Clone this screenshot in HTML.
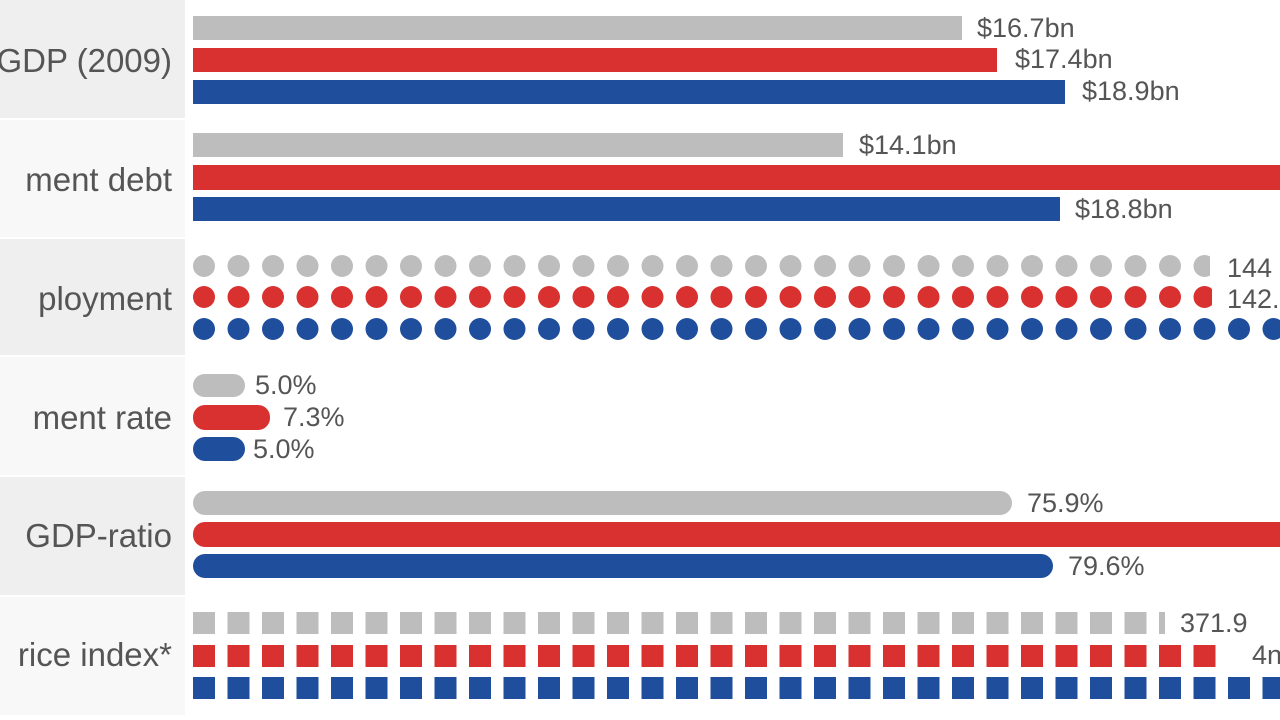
<!DOCTYPE html><html><head><style>
body{margin:0;width:1280px;height:720px;overflow:hidden;background:#fff;font-family:"Liberation Sans",sans-serif;position:relative}
.a{position:absolute}
.lab{position:absolute;right:1108px;font-size:33px;color:#555;white-space:nowrap}
.v{position:absolute;font-size:27px;color:#555;white-space:nowrap}
.g{background:#bdbdbd}.r{background:#d8312f}.b{background:#1f4e9c}
</style></head><body>
<div class="a" style="left:0;top:0;width:185px;height:118px;background:#efefef"></div>
<div class="a" style="left:0;top:120px;width:185px;height:117px;background:#f8f8f8"></div>
<div class="a" style="left:0;top:239px;width:185px;height:116px;background:#efefef"></div>
<div class="a" style="left:0;top:357px;width:185px;height:118px;background:#f8f8f8"></div>
<div class="a" style="left:0;top:477px;width:185px;height:118px;background:#efefef"></div>
<div class="a" style="left:0;top:597px;width:185px;height:118px;background:#f8f8f8"></div>
<div class="lab" style="top:42px">GDP (2009)</div>
<div class="lab" style="top:161px">ment debt</div>
<div class="lab" style="top:280px">ployment</div>
<div class="lab" style="top:399px">ment rate</div>
<div class="lab" style="top:517px">GDP-ratio</div>
<div class="lab" style="top:636px">rice index*</div>

<div class="a g" style="left:193px;top:16px;width:769px;height:24px"></div>
<div class="a r" style="left:193px;top:48px;width:804px;height:24px"></div>
<div class="a b" style="left:193px;top:80px;width:872px;height:24px"></div>
<div class="v" style="left:977px;top:13px">$16.7bn</div>
<div class="v" style="left:1015px;top:44px">$17.4bn</div>
<div class="v" style="left:1082px;top:76px">$18.9bn</div>

<div class="a g" style="left:193px;top:133px;width:650px;height:24px"></div>
<div class="a r" style="left:193px;top:165px;width:1087px;height:25px"></div>
<div class="a b" style="left:193px;top:197px;width:867px;height:24px"></div>
<div class="v" style="left:859px;top:130px">$14.1bn</div>
<div class="v" style="left:1075px;top:194px">$18.8bn</div>

<svg class="a" style="left:0;top:0" width="1280" height="720" id="s"></svg>

<div class="a g" style="left:193px;top:374px;width:52px;height:23px;border-radius:12px"></div>
<div class="a r" style="left:193px;top:405px;width:77px;height:25px;border-radius:12px"></div>
<div class="a b" style="left:193px;top:437px;width:52px;height:24px;border-radius:12px"></div>
<div class="v" style="left:255px;top:370px">5.0%</div>
<div class="v" style="left:283px;top:402px">7.3%</div>
<div class="v" style="left:253px;top:434px">5.0%</div>

<div class="a g" style="left:193px;top:491px;width:819px;height:24px;border-radius:12px"></div>
<div class="a r" style="left:193px;top:522px;width:1100px;height:25px;border-radius:12px"></div>
<div class="a b" style="left:193px;top:554px;width:860px;height:24px;border-radius:12px"></div>
<div class="v" style="left:1027px;top:488px">75.9%</div>
<div class="v" style="left:1068px;top:551px">79.6%</div>

<div class="v" style="left:1227px;top:253px">144</div>
<div class="v" style="left:1227px;top:284px">142.</div>
<div class="v" style="left:1180px;top:608px">371.9</div>
<div class="v" style="left:1252px;top:640px">4n</div>
<script>
var s=document.getElementById('s'),h='';
var rows=[[266,'#bdbdbd',1210],[297,'#d8312f',1212],[329,'#1f4e9c',1300]];
rows.forEach(function(r){for(var i=0;i<32;i++){var cx=204+i*34.5;if(cx-11>r[2])break;
var w=Math.min(22,r[2]-(cx-11));h+='<clipPath id="c'+r[0]+i+'"><rect x="'+(cx-11)+'" y="'+(r[0]-11)+'" width="'+w+'" height="22"/></clipPath><circle clip-path="url(#c'+r[0]+i+')" cx="'+cx+'" cy="'+r[0]+'" r="11" fill="'+r[1]+'"/>';}});
var sq=[[612,'#bdbdbd',1165],[645,'#d8312f',1222],[677,'#1f4e9c',1300]];
sq.forEach(function(r){for(var i=0;i<32;i++){var x=193+i*34.5;if(x>r[2])break;var w=Math.min(22,r[2]-x);
h+='<rect x="'+x+'" y="'+r[0]+'" width="'+w+'" height="22" fill="'+r[1]+'"/>';}});
s.innerHTML=h;
</script>
</body></html>
